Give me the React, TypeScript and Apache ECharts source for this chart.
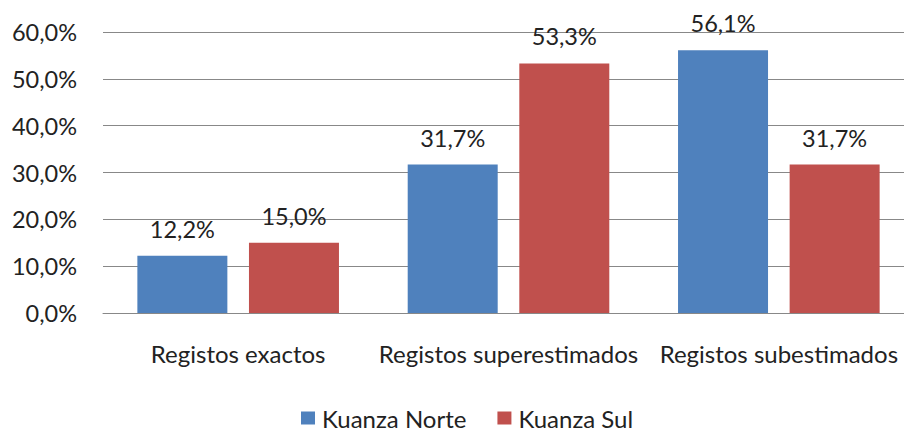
import React, { useEffect, useRef } from "react";
import * as echarts from "echarts";

const categories = ["Registos exactos", "Registos superestimados", "Registos subestimados"];
const seriesNames = ["Kuanza Norte", "Kuanza Sul"];
const kuanzaNorte = [12.2, 31.7, 56.1];
const kuanzaSul = [15.0, 53.3, 31.7];
const yTicks = [0, 10, 20, 30, 40, 50, 60];

const FONT = "Lato";
const fmt = (v: number) => v.toFixed(1).replace(".", ",") + "%";

export default function App() {
  const ref = useRef<HTMLDivElement>(null);
  useEffect(() => {
    if (!ref.current) return;
    const chart = echarts.init(ref.current, undefined, { renderer: "svg" });
    const labelStyle = {
      show: true,
      position: "top" as const,
      distance: 15,
      fontFamily: FONT,
      fontSize: 23.5,
      color: "#222",
      formatter: (p: any) => fmt(p.value),
    };
    chart.setOption({
      animation: false,
      backgroundColor: "#fff",
      textStyle: { fontFamily: FONT },
      grid: { left: 103, top: 32, right: 0, height: 281, containLabel: false },
      legend: {
        data: seriesNames,
        left: 296,
        top: 401,
        itemWidth: 14,
        itemHeight: 13,
        itemGap: 31,
        icon: "rect",
        textStyle: { fontFamily: FONT, fontSize: 24, color: "#222", padding: [0, 0, 0, 2] },
      },
      xAxis: {
        type: "category",
        data: categories,
        axisLine: { show: true, lineStyle: { color: "#888", width: 1 } },
        axisTick: { show: false },
        axisLabel: { fontFamily: FONT, fontSize: 24, color: "#222", margin: 28, interval: 0 },
      },
      yAxis: {
        type: "value",
        min: yTicks[0],
        max: yTicks[yTicks.length - 1],
        interval: 10,
        axisLine: { show: false },
        axisTick: { show: false },
        splitLine: { lineStyle: { color: "#888", width: 1 } },
        axisLabel: {
          fontFamily: FONT,
          fontSize: 23.5,
          color: "#222",
          margin: 26,
          formatter: (v: number) => fmt(v),
        },
      },
      series: [
        {
          name: seriesNames[0],
          type: "bar",
          data: kuanzaNorte,
          barWidth: 90,
          barGap: "24%",
          itemStyle: { color: "#4F81BD" },
          label: labelStyle,
        },
        {
          name: seriesNames[1],
          type: "bar",
          data: kuanzaSul,
          barWidth: 90,
          barGap: "24%",
          itemStyle: { color: "#C0504D" },
          label: labelStyle,
        },
      ],
    });
    return () => chart.dispose();
  }, []);
  return (
    <div style={{ width: 904, height: 432, position: "absolute", left: 0, top: 0, overflow: "hidden" }}>
      <div ref={ref} style={{ width: 914, height: 432 }} />
    </div>
  );
}
